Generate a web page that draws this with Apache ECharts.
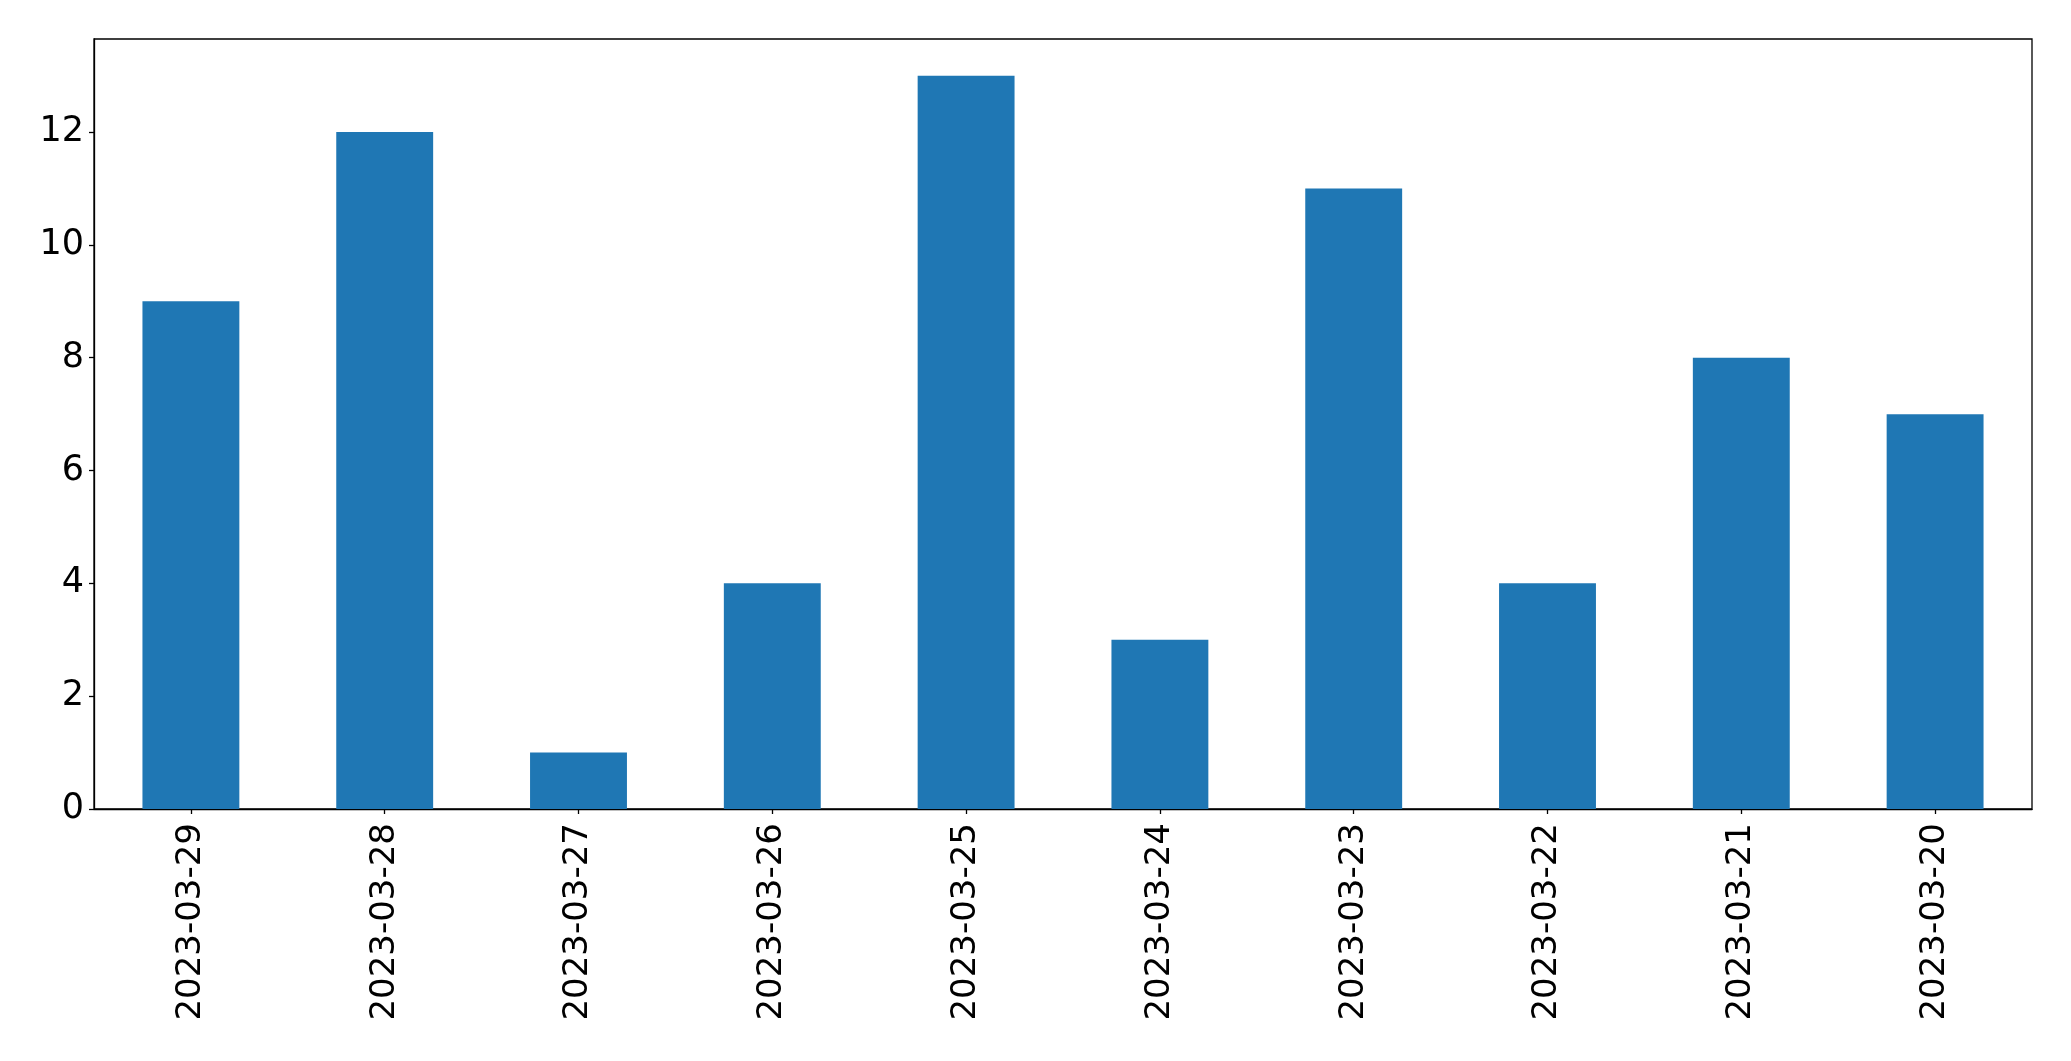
<!DOCTYPE html>
<html><head><meta charset="utf-8">
<script src="https://cdn.jsdelivr.net/npm/echarts@6/dist/echarts.min.js"></script>
<style>html,body{margin:0;padding:0;background:#fff}#c{width:2071px;height:1061px}</style>
</head><body><div id="c"></div>
<script>
const categories = ['2023-03-29','2023-03-28','2023-03-27','2023-03-26','2023-03-25','2023-03-24','2023-03-23','2023-03-22','2023-03-21','2023-03-20'];
const values = [9, 12, 1, 4, 13, 3, 11, 4, 8, 7];
const yTicks = [0, 2, 4, 6, 8, 10, 12];
const yMax = 13.65;

const chart = echarts.init(document.getElementById('c'), null, {renderer: 'canvas'});
chart.setOption({
  animation: false,
  grid: {left: 94, right: 39, top: 39, bottom: 252, show: true, borderColor: '#000', borderWidth: 1.3, backgroundColor: 'transparent', containLabel: false},
  xAxis: {
    type: 'category', data: categories, boundaryGap: true,
    axisLine: {show: true, lineStyle: {color: '#000', width: 1.3}},
    axisTick: {show: true, alignWithLabel: true, length: 5, lineStyle: {color: '#000', width: 1.3}},
    axisLabel: {rotate: 90, margin: 14, fontSize: 34, color: '#000', fontFamily: 'DejaVu Sans', interval: 0},
    splitLine: {show: false}
  },
  yAxis: {
    type: 'value', min: 0, max: yMax,
    axisLine: {show: true, lineStyle: {color: '#000', width: 1.3}},
    axisTick: {show: true, length: 5, customValues: yTicks, lineStyle: {color: '#000', width: 1.3}},
    axisLabel: {customValues: yTicks, margin: 10, fontSize: 35, color: '#000', fontFamily: 'DejaVu Sans', padding: [5, 0, 0, 0]},
    splitLine: {show: false}
  },
  series: [{type: 'bar', data: values, barWidth: '50%', itemStyle: {color: '#1f77b4'}}]
});
</script></body></html>
